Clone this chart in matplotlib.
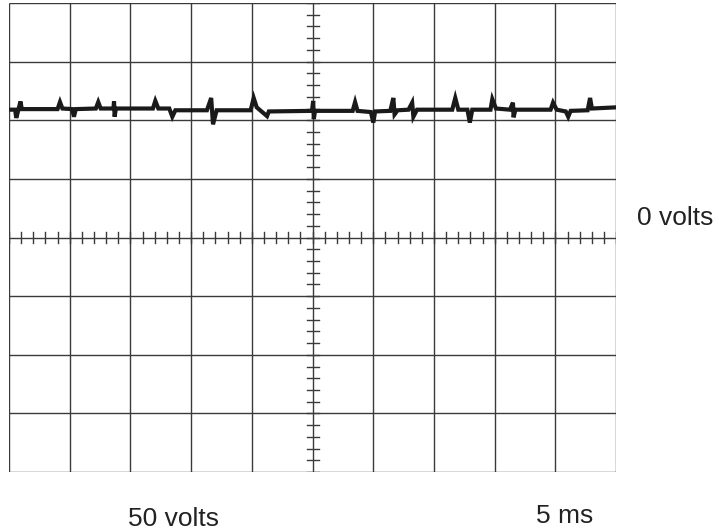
import numpy as np
import matplotlib
matplotlib.use("Agg")
import matplotlib.pyplot as plt

# scope screen: 10 x 8 divisions, trace values in divisions
n_cols = 10
n_rows = 8

trace_t = [0.00, 0.10, 0.12, 0.19, 0.21,
           0.80, 0.84, 0.88, 1.04, 1.07, 1.10,
           1.43, 1.47, 1.51, 1.72, 1.73, 1.74, 1.76,
           2.37, 2.41, 2.46, 2.64, 2.69, 2.74,
           3.26, 3.33, 3.36, 3.42,
           3.98, 4.03, 4.08, 4.25, 4.28,
           4.99, 5.01, 5.02, 5.04,
           5.66, 5.70, 5.74, 5.96, 6.00, 6.03,
           6.28, 6.33, 6.35, 6.40, 6.58, 6.64, 6.66, 6.72,
           7.30, 7.35, 7.40, 7.55, 7.59, 7.63,
           7.93, 7.96, 8.02, 8.25, 8.30, 8.31, 8.34,
           8.92, 8.96, 9.02, 9.17, 9.21, 9.25,
           9.53, 9.57, 9.60, 10.00]
trace_v = [2.18, 2.18, 2.04, 2.32, 2.19,
           2.19, 2.31, 2.20, 2.19, 2.06, 2.19,
           2.20, 2.31, 2.20, 2.20, 2.32, 2.06, 2.20,
           2.20, 2.33, 2.20, 2.20, 2.06, 2.17,
           2.17, 2.38, 1.93, 2.17,
           2.17, 2.38, 2.22, 2.07, 2.15,
           2.16, 2.33, 2.02, 2.16,
           2.16, 2.31, 2.16, 2.14, 1.96, 2.15,
           2.16, 2.38, 2.10, 2.17, 2.18, 2.30, 2.06, 2.18,
           2.18, 2.38, 2.18, 2.18, 1.96, 2.18,
           2.18, 2.36, 2.20, 2.18, 2.30, 2.05, 2.18,
           2.18, 2.30, 2.18, 2.15, 2.06, 2.16,
           2.17, 2.38, 2.20, 2.22]

volt_label = "0 volts"
vdiv_label = "50 volts"
tdiv_label = "5 ms"

plt.rcParams['font.family'] = ['Liberation Sans', 'DejaVu Sans']

fig = plt.figure(figsize=(7.19, 5.31), dpi=100)
ax = fig.add_axes([0.0125, 0.111, 0.8445, 0.8834])
ax.set_xlim(0, n_cols)
ax.set_ylim(-n_rows / 2, n_rows / 2)
ax.axis("off")

grid_col = "#3a3a3a"
for i in range(n_cols + 1):
    ax.plot([i, i], [-n_rows / 2, n_rows / 2], color=grid_col, lw=1.0, solid_capstyle="butt")
for j in range(n_rows + 1):
    y = -n_rows / 2 + j
    ax.plot([0, n_cols], [y, y], color=grid_col, lw=1.0, solid_capstyle="butt")

# minor ticks on the centre lines
cx = n_cols / 2
for t in np.arange(0, n_cols + 0.001, 0.2):
    ax.plot([t, t], [-0.1, 0.1], color=grid_col, lw=1.0)
for v in np.arange(-n_rows / 2, n_rows / 2 + 0.001, 0.2):
    ax.plot([cx - 0.1, cx + 0.1], [v, v], color=grid_col, lw=1.0)

ax.plot(trace_t, trace_v, color="#1a1a1a", lw=3.0, solid_joinstyle="miter")

fig.text(637 / 719, 1 - 218 / 531, volt_label, fontsize=19, color="#222222",
         ha="left", va="center")
fig.text(173 / 719, 1 - 519 / 531, vdiv_label, fontsize=19, color="#222222",
         ha="center", va="center")
fig.text(565 / 719, 1 - 516 / 531, tdiv_label, fontsize=19, color="#222222",
         ha="center", va="center")

fig.savefig("out.png", dpi=100)
